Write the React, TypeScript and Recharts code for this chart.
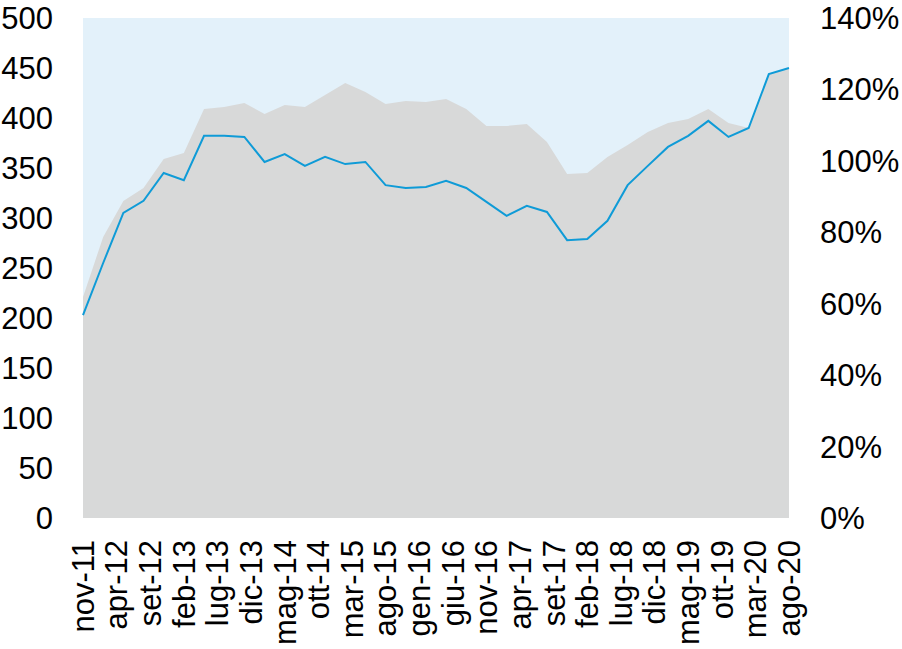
import { ComposedChart, Area, Line, XAxis, YAxis, CartesianGrid } from 'recharts';

// x tick labels, one every 5 months starting nov-11
const tickLabels = [
  'nov-11', 'apr-12', 'set-12', 'feb-13', 'lug-13', 'dic-13', 'mag-14', 'ott-14',
  'mar-15', 'ago-15', 'gen-16', 'giu-16', 'nov-16', 'apr-17', 'set-17', 'feb-18',
  'lug-18', 'dic-18', 'mag-19', 'ott-19', 'mar-20', 'ago-20',
];

// quarterly observations, nov-11 .. ago-20 (left axis, grey area)
const stock = [
  221, 281, 317, 330, 359, 365, 409, 411, 415, 404, 413, 411,
  423, 435, 426, 414, 417, 416, 419, 409, 392, 392, 394, 376,
  344, 345, 361, 373, 386, 395, 399, 409, 395, 390, 444, 450,
];

// quarterly observations (right axis, %, blue line)
const ratio = [
  56.8, 71.4, 85.4, 88.8, 96.6, 94.6, 107.0, 107.0, 106.7, 99.7, 101.9, 98.6,
  101.1, 99.1, 99.7, 93.2, 92.4, 92.7, 94.4, 92.4, 88.5, 84.6, 87.4, 85.7,
  77.8, 78.1, 83.2, 93.2, 98.6, 103.9, 107.0, 111.2, 106.7, 109.2, 124.3, 126.0,
];

const leftTicks = [0, 50, 100, 150, 200, 250, 300, 350, 400, 450, 500];
const rightTicks = [0, 20, 40, 60, 80, 100, 120, 140];

const data = stock.map((v, i) => ({ m: i * 3, stock: v, ratio: ratio[i] }));
const xTicks = tickLabels.map((_, i) => i * 5);

const FONT = 'Liberation Sans, Arial, sans-serif';

const XTick = ({ x, y, payload }: any) => (
  <g transform={`translate(${x},${y + 14})`}>
    <text
      transform="rotate(-90)"
      textAnchor="end"
      dy="0.35em"
      fontSize={31}
      fontFamily={FONT}
      fill="#000"
    >
      {tickLabels[payload.value / 5]}
    </text>
  </g>
);

export default function App() {
  const tickStyle = { fontSize: 31, fontFamily: FONT, fill: '#000' };
  return (
    <div style={{ position: 'absolute', left: 0, top: 0, background: '#fff' }}>
      <ComposedChart
        width={902}
        height={649}
        data={data}
        margin={{ top: 18, right: 0, bottom: 0, left: 0 }}
      >
        <CartesianGrid
          yAxisId="left"
          horizontal={false}
          vertical={false}
          fill="#e3f1fa"
          stroke="none"
        />
        <XAxis
          dataKey="m"
          type="number"
          domain={[0, 105]}
          ticks={xTicks}
          interval={0}
          axisLine={false}
          tickLine={false}
          height={131}
          tick={<XTick />}
        />
        <YAxis
          yAxisId="left"
          domain={[0, 500]}
          ticks={leftTicks}
          width={83}
          axisLine={false}
          tickLine={false}
          tickMargin={24}
          tick={tickStyle}
        />
        <YAxis
          yAxisId="right"
          orientation="right"
          domain={[0, 140]}
          ticks={rightTicks}
          width={113}
          axisLine={false}
          tickLine={false}
          tickMargin={25}
          tick={tickStyle}
          tickFormatter={(v: number) => `${v}%`}
        />
        <Area
          yAxisId="left"
          type="linear"
          dataKey="stock"
          fill="#d8d9d9"
          fillOpacity={1}
          stroke="none"
          isAnimationActive={false}
        />
        <Line
          yAxisId="right"
          type="linear"
          dataKey="ratio"
          stroke="#0f9bd7"
          strokeWidth={2}
          dot={false}
          isAnimationActive={false}
        />
      </ComposedChart>
    </div>
  );
}
